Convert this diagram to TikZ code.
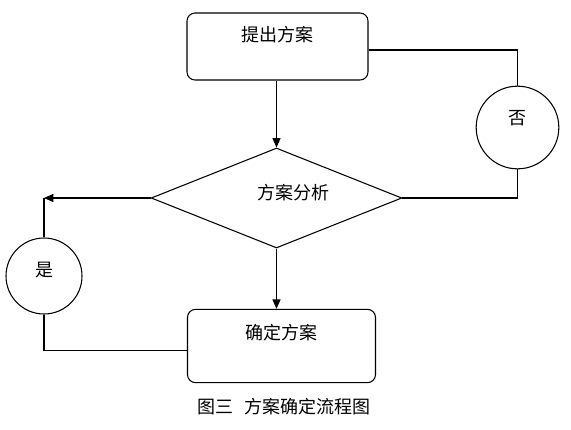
\documentclass[tikz,border=0pt]{standalone}
\usepackage{fontspec}
\setmainfont{Noto Sans CJK SC}
\usetikzlibrary{shapes.geometric,arrows.meta}

\begin{document}
\begin{tikzpicture}[x=0.75pt, y=-0.75pt, >={Triangle[length=7pt,width=6pt]}, line width=0.8pt, font=\fontsize{13.5}{16}\selectfont]
    % Define styles
    \tikzstyle{process} = [rectangle, rounded corners=6pt, text height=10pt, text centered, draw=black]
    \tikzstyle{decision} = [diamond, minimum width=188pt, minimum height=75pt, inner sep=0pt, draw=black]
    \tikzstyle{answer} = [circle, text height=10pt, text centered, draw=black]
    \useasboundingbox (0,0) rectangle (571,429);

    % Nodes
    \node[process, minimum width=135.75pt, minimum height=50.25pt, text depth=17pt] (propose) at (277.5,46.5) {提出方案};
    \node[decision, label={[xshift=12.75pt, yshift=3.75pt]center:方案分析}] (analysis) at (276.5,198) {};
    \node[process, minimum width=141pt, minimum height=55pt, text depth=20pt] (confirm) at (281.5,346) {确定方案};
    \node[answer, minimum size=62pt, text depth=14pt] (no) at (517.5,127.5) {否};
    \node[answer, minimum size=57pt, text depth=9pt] (yes) at (44,276) {是};
    \coordinate (turn) at (yes.north |- analysis.west);
    \node (caption) at (284,407) {图三\hspace{0.6em}方案确定流程图};

    % Connections
    \draw[->] (analysis.north |- propose.south) -- (analysis.north);
    \draw[->] (analysis.south) -- (analysis.south |- confirm.north);
    \draw ([yshift=-2.6pt]propose.east) -| (no.north);
    \draw (no.south) |- (analysis.east);
    \draw[->] (analysis.west) -- (turn);
    \draw (turn) -- (yes.north);
    \draw (yes.south) |- ([yshift=-3.7pt]confirm.west);
\end{tikzpicture}
\end{document}
